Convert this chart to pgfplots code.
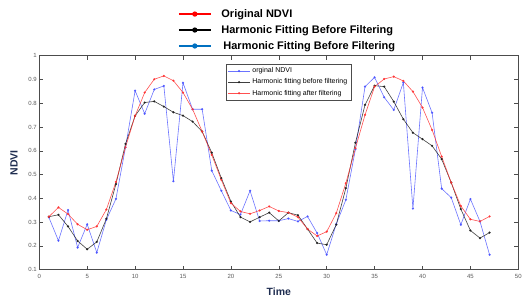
\documentclass[border=0pt]{standalone}
\usepackage{pgfplots}
\pgfplotsset{compat=1.18}
\usepackage{fontspec}
\setmainfont{Liberation Sans}
\definecolor{origblue}{RGB}{70,80,255}
\definecolor{fitred}{RGB}{255,50,50}
\definecolor{fitblack}{RGB}{30,30,30}
\definecolor{legblue}{RGB}{0,112,192}
\definecolor{navy}{RGB}{31,45,80}
\definecolor{tickgray}{RGB}{90,90,90}
\pgfplotstableread{
t orig before after
1 0.320 0.323 0.323
2 0.222 0.331 0.362
3 0.351 0.282 0.334
4 0.193 0.221 0.291
5 0.291 0.186 0.268
6 0.172 0.217 0.282
7 0.310 0.314 0.353
8 0.398 0.460 0.469
9 0.615 0.629 0.615
10 0.853 0.747 0.747
11 0.756 0.803 0.845
12 0.858 0.808 0.901
13 0.873 0.786 0.915
14 0.472 0.762 0.895
15 0.886 0.748 0.845
16 0.775 0.723 0.775
17 0.775 0.681 0.681
18 0.517 0.592 0.583
19 0.432 0.485 0.478
20 0.349 0.387 0.380
21 0.332 0.321 0.345
22 0.432 0.301 0.335
23 0.305 0.321 0.349
24 0.306 0.340 0.366
25 0.306 0.305 0.347
26 0.315 0.340 0.340
27 0.303 0.329 0.321
28 0.324 0.271 0.271
29 0.254 0.212 0.242
30 0.163 0.205 0.260
31 0.292 0.290 0.338
32 0.394 0.443 0.464
33 0.607 0.634 0.611
34 0.870 0.793 0.751
35 0.909 0.874 0.870
36 0.825 0.870 0.902
37 0.772 0.807 0.912
38 0.887 0.733 0.894
39 0.357 0.676 0.849
40 0.866 0.649 0.782
41 0.760 0.621 0.688
42 0.441 0.565 0.576
43 0.403 0.466 0.466
44 0.289 0.355 0.368
45 0.397 0.265 0.312
46 0.303 0.233 0.303
47 0.163 0.256 0.324
}\datatable
\begin{document}
\begin{tikzpicture}
\begin{axis}[
  scale only axis,
  width=479pt, height=214pt,
  xmin=0, xmax=50, ymin=0.1, ymax=1,
  xtick={0,5,...,50},
  ytick={0.1,0.2,0.3,0.4,0.5,0.6,0.7,0.8,0.9,1},
  yticklabels={0.1,0.2,0.3,0.4,0.5,0.6,0.7,0.8,0.9,1},
  tick align=inside,
  major tick length=4pt,
  tick style={black!70, line width=0.5pt},
  axis line style={black!70, line width=0.6pt},
  /pgf/number format/assume math mode=true,
  ticklabel style={font=\fontsize{6}{7}\selectfont, text=tickgray},
  xticklabel style={yshift=-1pt},
  yticklabel style={xshift=1pt},
  xlabel={\textbf{Time}},
  ylabel={\textbf{NDVI}},
  label style={text=navy, font=\fontsize{10.5}{12}\selectfont},
  xlabel style={yshift=-3pt},
  ylabel style={yshift=4pt},
  legend cell align=left,
  legend style={
    at={(0.3898,0.961)}, anchor=north west,
    font=\fontsize{7}{8}\selectfont,
    draw=black!70, line width=0.5pt,
    inner sep=1.5pt, row sep=0.5pt,
  },
  legend image code/.code={%
    \draw[mark repeat=2,mark phase=2,#1] plot coordinates {(0pt,0pt) (11pt,0pt) (22pt,0pt)};},
]
\addplot[color=origblue, opacity=0.8, line width=0.6pt, mark=*, mark size=0.8pt] table[x=t,y=orig] {\datatable};
\addlegendentry{orginal NDVI}
\addplot[color=fitblack, opacity=0.85, line width=0.6pt, mark=*, mark size=0.8pt] table[x=t,y=before] {\datatable};
\addlegendentry{Harmonic fitting before filtering}
\addplot[color=fitred, opacity=0.85, line width=0.6pt, mark=*, mark size=0.8pt] table[x=t,y=after] {\datatable};
\addlegendentry{Harmonic fitting after filtering}
\coordinate (bl) at (rel axis cs:0,0);
\coordinate (tr) at (rel axis cs:1,1);
\end{axis}
\begin{axis}[
  scale only axis,
  width=479pt, height=214pt,
  hide axis,
  xmin=0, xmax=1, ymin=0, ymax=1,
  legend cell align=left,
  legend style={
    at={(0.2896,1.227)}, anchor=north west,
    font=\fontsize{11}{13}\selectfont\bfseries,
    draw=none, fill=none, inner sep=0pt, row sep=2.5pt,
    /tikz/every odd column/.append style={column sep=8pt},
  },
  legend image code/.code={%
    \draw[mark repeat=2,mark phase=2,#1] plot coordinates {(0pt,0pt) (16pt,0pt) (32pt,0pt)};},
]
\addlegendimage{color=red, line width=1.2pt, mark=*, mark size=2pt}
\addlegendentry{Original NDVI}
\addlegendimage{color=black, line width=1.2pt, mark=*, mark size=2pt}
\addlegendentry{Harmonic Fitting Before Filtering}
\addlegendimage{color=legblue, line width=1.2pt, mark=*, mark size=2pt}
\addlegendentry{\hspace{2pt}Harmonic Fitting Before Filtering}
\end{axis}
\pgfresetboundingbox
\path[use as bounding box] ([shift={(-39.3pt,-28.3pt)}]bl) rectangle ([shift={(12.7pt,55.7pt)}]tr);
\end{tikzpicture}
\end{document}
